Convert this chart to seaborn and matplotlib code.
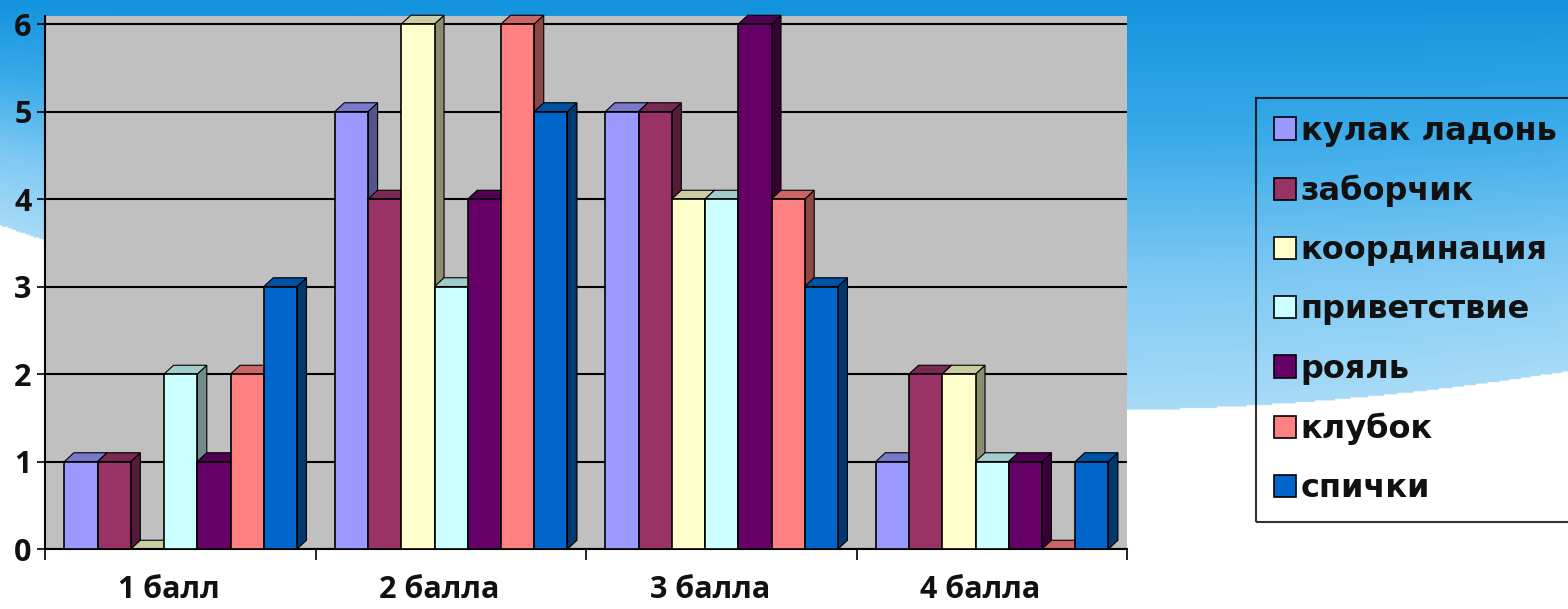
import numpy as np
import pandas as pd
import matplotlib
matplotlib.use("Agg")
import matplotlib.pyplot as plt
import matplotlib.transforms as mtransforms
from matplotlib.colors import LinearSegmentedColormap, to_rgb
from matplotlib.patches import Polygon
import seaborn as sns

categories = ["1 балл", "2 балла", "3 балла", "4 балла"]
series = ["кулак ладонь", "заборчик", "координация", "приветствие", "рояль", "клубок", "спички"]
kulak = [1, 5, 5, 1]
zaborchik = [1, 4, 5, 2]
koordinacia = [0, 6, 4, 2]
privetstvie = [2, 3, 4, 1]
royal = [1, 4, 6, 1]
klubok = [2, 6, 4, 0]
spichki = [3, 5, 3, 1]
colors = ["#9999FF", "#993366", "#FFFFCC", "#CCFFFF", "#660066", "#FF8080", "#0066CC"]

values = [kulak, zaborchik, koordinacia, privetstvie, royal, klubok, spichki]
rows = []
for s, vals in zip(series, values):
    for c, v in zip(categories, vals):
        rows.append({"cat": c, "series": s, "value": v})
df = pd.DataFrame(rows)

sns.set_theme(style="white")
plt.rcParams["font.family"] = ["Open Sans", "DejaVu Sans"]

fig = plt.figure(figsize=(15.68, 6.09), dpi=100)

# background gradient with white swoosh
bg = fig.add_axes([0, 0, 1, 1], zorder=-10)
bg.set_axis_off()
H, W = 400, 800
yy, xx = np.mgrid[0:1:complex(0, H), 0:1:complex(0, W)]
cmap = LinearSegmentedColormap.from_list("b", ["#1393DD", "#3AAAE9", "#7CC8F3", "#A8DBF8"])
curve = 0.37 + 0.89 * xx - 0.65 * xx ** 2
img = cmap(np.clip(yy / curve, 0, 1))[..., :3]
img[yy > curve] = [1, 1, 1]
bg.imshow(img, extent=[0, 1, 0, 1], aspect="auto", origin="upper")
bg.set_xlim(0, 1); bg.set_ylim(0, 1)

ax = fig.add_axes([0.029, 0.0985, 0.690, 0.875])
ax.set_facecolor("#C0C0C0")
sns.barplot(data=df, x="cat", y="value", hue="series", hue_order=series,
            palette=colors, order=categories, width=0.86, gap=0.0,
            edgecolor="black", linewidth=1.2, saturation=1, ax=ax, zorder=3)

# pseudo-3D side/top faces derived from bar geometry
dx, dy = 0.035, 0.1
for cont, col in zip(ax.containers, colors):
    r, g, b = to_rgb(col)
    dark = (r * 0.55, g * 0.55, b * 0.55)
    for p in cont.patches:
        p.set_clip_on(False)
        x0, y0 = p.get_x(), p.get_y()
        w, h = p.get_width(), p.get_height()
        side = Polygon([(x0 + w, y0), (x0 + w + dx, y0 + dy), (x0 + w + dx, y0 + h + dy), (x0 + w, y0 + h)],
                       closed=True, facecolor=dark, edgecolor="black", linewidth=0.8, zorder=2.5, clip_on=False)
        top = Polygon([(x0, y0 + h), (x0 + dx, y0 + h + dy), (x0 + w + dx, y0 + h + dy), (x0 + w, y0 + h)],
                      closed=True, facecolor=(r * 0.8, g * 0.8, b * 0.8), edgecolor="black", linewidth=0.8,
                      zorder=2.5, clip_on=False)
        ax.add_patch(side)
        ax.add_patch(top)

ax.set_ylim(0, 6.09)
ax.set_xlim(-0.5, 3.5)
ax.set_yticks(range(0, 7))
ax.yaxis.grid(True, color="black", linewidth=1.5, zorder=0)
ax.set_axisbelow(True)
ax.set_xlabel("")
ax.set_ylabel("")
ax.set_xticks(np.arange(len(categories)))
ax.set_xticklabels(categories)
ax.tick_params(axis="x", length=0, pad=19, labelsize=22)
ax.tick_params(axis="y", left=True, length=6, width=1.2, color="black", labelsize=22, pad=4)
shift = mtransforms.ScaledTranslation(-12 / 100, 0, fig.dpi_scale_trans)
for lab in ax.get_xticklabels():
    lab.set_transform(lab.get_transform() + shift)
for lab in ax.get_xticklabels() + ax.get_yticklabels():
    lab.set_fontweight("bold")
    lab.set_color("#111111")
# minor ticks at category boundaries
ax.set_xticks(np.arange(-0.5, 4.0, 1.0), minor=True)
ax.tick_params(axis="x", which="minor", bottom=True, length=8, width=1.2, color="black")
for sp in ["top", "right"]:
    ax.spines[sp].set_visible(False)
ax.spines["left"].set_color("black")
ax.spines["left"].set_linewidth(1.5)
ax.spines["bottom"].set_color("black")
ax.spines["bottom"].set_linewidth(1.5)

handles, labels = ax.get_legend_handles_labels()
if ax.legend_:
    ax.legend_.remove()
leg = fig.legend(handles, labels, loc="upper left", bbox_to_anchor=(0.801, 0.839),
                 frameon=True, prop={"family": "DejaVu Sans", "weight": "bold", "size": 23},
                 handlelength=0.7, handleheight=0.7,
                 handletextpad=0.15, labelspacing=0.88, borderpad=0.55, borderaxespad=0)
leg.get_frame().set_facecolor("none")
leg.get_frame().set_edgecolor("black")
leg.get_frame().set_linewidth(1.5)
leg.get_frame().set_boxstyle("square", pad=0)
for t in leg.get_texts():
    t.set_color("#111111")

fig.savefig("out.png", dpi=100)
